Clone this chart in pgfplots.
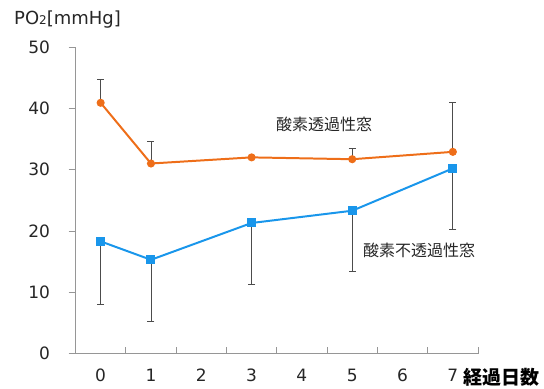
\documentclass[border=0pt]{standalone}
\usepackage{pgfplots}
\pgfplotsset{compat=1.18}
\usepackage{fontspec}
\setmainfont{DejaVu Sans}
\newfontfamily\jp{Noto Sans CJK JP}
\definecolor{cor}{RGB}{238,110,25}
\definecolor{cbl}{RGB}{25,150,235}
\definecolor{axg}{RGB}{150,150,150}
\begin{document}
\begin{tikzpicture}
\useasboundingbox (0,0) rectangle (544bp,389bp);
\begin{axis}[
  at={(75.5bp,35.4bp)}, anchor=south west,
  scale only axis, width=402.5bp, height=306.6bp,
  xmin=-0.5, xmax=7.5, ymin=0, ymax=50,
  axis x line*=bottom, axis y line*=left,
  axis line style={axg, line width=0.8pt},
  xtick={0,...,7}, ytick={0,10,...,50},
  minor xtick={-0.5,0.5,...,7.5},
  x tick style={draw=none},
  minor x tick style={draw=axg, line width=0.8pt},
  minor tick length=7bp,
  xtick align=inside,
  y tick style={axg, line width=0.8pt},
  ytick align=outside, major tick length=7bp,
  tick label style={font=\fontsize{17bp}{19bp}\selectfont, text=black!85},
  /pgf/number format/assume math mode=true,
  xticklabel style={yshift=-12bp},
  yticklabel style={xshift=-15bp},
  clip=false,
]
% error bars
\addplot[draw=none, no marks, error bars/.cd, y dir=plus, y explicit,
  error bar style={black!70, line width=0.8pt},
  error mark options={rotate=90, mark size=3.5bp, black!70, line width=0.8pt}]
  coordinates {(0,40.9) +- (0,3.8) (1,31.0) +- (0,3.6) (5,31.7) +- (0,1.8) (7,32.9) +- (0,8.0)};
\addplot[draw=none, no marks, error bars/.cd, y dir=minus, y explicit,
  error bar style={black!70, line width=0.8pt},
  error mark options={rotate=90, mark size=3.5bp, black!70, line width=0.8pt}]
  coordinates {(0,18.3) +- (0,10.3) (1,15.3) +- (0,10.1) (3,21.3) +- (0,10.0) (5,23.3) +- (0,9.9) (7,30.2) +- (0,9.9)};
% series
\addplot[cor, line width=2pt, mark=*, mark size=3bp, mark options={solid, fill=cor, draw=cor}]
  coordinates {(0,40.9) (1,31.0) (3,32.0) (5,31.7) (7,32.9)};
\addplot[cbl, line width=2pt, mark=square*, mark size=3.5bp, mark options={solid, fill=cbl, draw=cbl}]
  coordinates {(0,18.3) (1,15.3) (3,21.3) (5,23.3) (7,30.2)};
\node[font=\jp\fontsize{16bp}{18bp}\selectfont, text=black!85] at (axis cs:4.44,37.3) {酸素透過性窓};
\node[font=\jp\fontsize{16bp}{18bp}\selectfont, text=black!85] at (axis cs:6.33,16.9) {酸素不透過性窓};
\end{axis}
\node[font=\jp\bfseries\fontsize{19bp}{21bp}\selectfont, anchor=west, inner sep=0pt] at (463bp,12bp) {経過日数};
\node[font=\fontsize{18bp}{20bp}\selectfont, anchor=west, inner sep=0pt, text=black!85] at (14bp,369bp) {PO{\fontsize{12bp}{12bp}\selectfont 2}[mmHg]};
\end{tikzpicture}
\end{document}
